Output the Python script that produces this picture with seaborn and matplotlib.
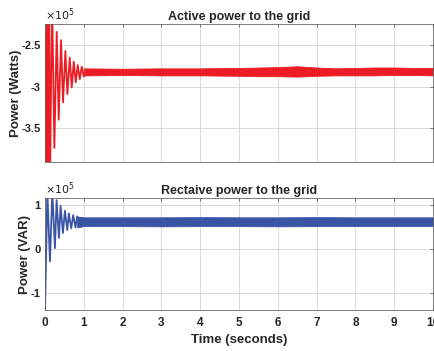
import seaborn as sns
import matplotlib.pyplot as plt

# values, in units of 10^5
active_peak_t = [0.0, 0.015, 0.035, 0.055, 0.075, 0.10, 0.129, 0.181, 0.241, 0.302,
                 0.353, 0.413, 0.465, 0.525, 0.577, 0.637, 0.689, 0.741, 0.792,
                 0.844, 0.896, 0.947, 1.0]
active_peak_v = [-2.82, -1.6, -4.6, -1.7, -4.5, -1.8, -4.2, -1.9, -3.74, -2.34,
                 -3.40, -2.44, -3.19, -2.57, -3.09, -2.65, -3.01, -2.70, -2.95,
                 -2.74, -2.91, -2.76, -2.88]
active_band_t = [1.0, 2.0, 3.0, 4.0, 5.0, 5.5, 6.0, 6.5, 7.0, 7.5, 8.0, 8.5, 9.0, 9.5, 10.0]
active_band_hi = [-2.78, -2.785, -2.78, -2.78, -2.775, -2.77, -2.765, -2.755, -2.77,
                  -2.78, -2.775, -2.77, -2.77, -2.775, -2.775]
active_band_lo = [-2.865, -2.86, -2.865, -2.865, -2.87, -2.875, -2.875, -2.88, -2.87,
                  -2.865, -2.865, -2.865, -2.86, -2.86, -2.865]

reactive_peak_t = [0.0, 0.06, 0.128, 0.188, 0.256, 0.299, 0.359, 0.402, 0.462,
                   0.513, 0.573, 0.615, 0.675, 0.726, 0.786, 0.829]
reactive_peak_v = [-1.45, 1.3, -0.28, 1.3, 0.02, 1.11, 0.25, 0.98, 0.36,
                   0.87, 0.43, 0.81, 0.47, 0.77, 0.49, 0.74]
reactive_band_t = [0.829, 1.0, 2.0, 3.0, 4.0, 5.0, 6.0, 7.0, 8.0, 9.0, 10.0]
reactive_band_hi = [0.74, 0.72, 0.72, 0.72, 0.725, 0.72, 0.72, 0.725, 0.72, 0.72, 0.72]
reactive_band_lo = [0.49, 0.52, 0.52, 0.515, 0.52, 0.52, 0.515, 0.52, 0.52, 0.52, 0.52]

x_ticks = list(range(0, 11))
active_yticks = [-2.5, -3, -3.5]
reactive_yticks = [1, 0, -1]

RED = '#ec1c24'
BLUE = '#3a53a4'

sns.set_style('white')
plt.rcParams['font.family'] = ['Liberation Sans', 'DejaVu Sans']
plt.rcParams['axes.unicode_minus'] = False

fig = plt.figure(figsize=(4.35, 3.51), dpi=100)
ax1 = fig.add_axes([45 / 435, 1 - 162 / 351, 388 / 435, 138 / 351])
ax2 = fig.add_axes([45 / 435, 1 - 310 / 351, 388 / 435, 112 / 351])


def style_axes(ax, yticks, ylim, title, ylabel, label_x):
    ax.set_xlim(0, 10)
    ax.set_ylim(*ylim)
    ax.set_xticks(x_ticks)
    ax.set_yticks(yticks)
    ax.set_yticklabels(['%g' % v for v in yticks], fontweight='bold', fontsize=8)
    ax.grid(True, color='#d4d4d4', lw=0.6)
    ax.tick_params(direction='in', top=True, right=True, length=2.5, width=0.5,
                   color='#444444', pad=3)
    ax.tick_params(axis='x', pad=5)
    for s in ax.spines.values():
        s.set_color('#666666')
        s.set_linewidth(0.6)
    ax.set_title(title, fontsize=9, fontweight='bold', pad=3)
    ax.set_ylabel(ylabel, fontsize=9.5, fontweight='bold')
    ax.yaxis.set_label_coords(label_x, 0.5)
    ax.text(0, 1.01, r'$\times10^5$', transform=ax.transAxes, fontsize=8,
            va='bottom', ha='left', color='#222222')


sns.lineplot(x=active_peak_t, y=active_peak_v, ax=ax1, color=RED, lw=1.3,
             sort=False, estimator=None)
ax1.fill_between(active_band_t, active_band_lo, active_band_hi, color=RED, lw=0.6,
                 edgecolor=RED)
style_axes(ax1, active_yticks, (-3.91, -2.245), 'Active power to the grid',
           'Power (Watts)', -0.058)
ax1.set_xticklabels([])

sns.lineplot(x=reactive_peak_t, y=reactive_peak_v, ax=ax2, color=BLUE, lw=1.3,
             sort=False, estimator=None)
ax2.fill_between(reactive_band_t, reactive_band_lo, reactive_band_hi, color=BLUE, lw=0.6,
                 edgecolor=BLUE)
style_axes(ax2, reactive_yticks, (-1.39, 1.16), 'Rectaive power to the grid',
           'Power (VAR)', -0.035)
ax2.set_xticklabels([str(v) for v in x_ticks], fontweight='bold', fontsize=8.5)
ax2.set_xlabel('Time (seconds)', fontsize=9.5, fontweight='bold', labelpad=4)

fig.savefig('out.png', dpi=100)
